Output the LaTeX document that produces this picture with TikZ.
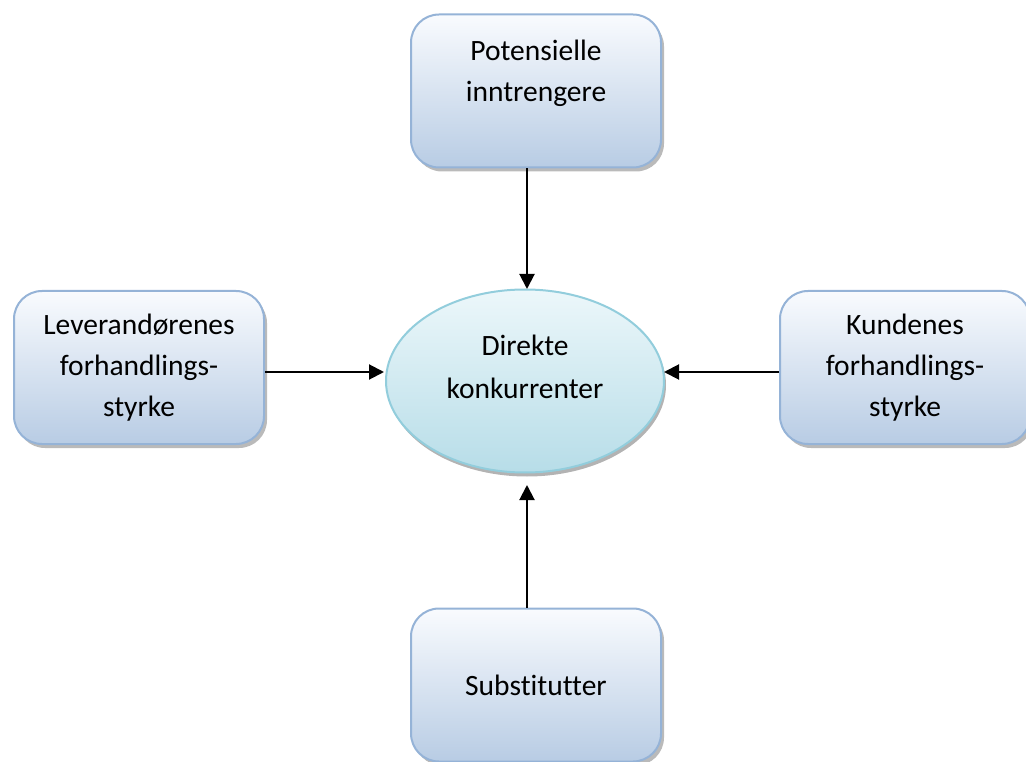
\documentclass[tikz,border=0pt]{standalone}
\usepackage{fontspec}
\setmainfont{Carlito}[Ligatures=CommonOff]
\usetikzlibrary{arrows.meta,shapes.geometric,shadows,calc}
\definecolor{boxtop}{RGB}{249,251,254}
\definecolor{boxbot}{RGB}{184,204,228}
\definecolor{boxline}{RGB}{149,179,215}
\definecolor{elltop}{RGB}{236,247,250}
\definecolor{ellbot}{RGB}{183,221,232}
\definecolor{ellline}{RGB}{146,205,220}
\tikzset{
  forcebox/.style={draw=boxline, line width=2pt, rounded corners=28pt,
    top color=boxtop, bottom color=boxbot,
    minimum width=250pt, minimum height=153pt, align=center,
    font=\fontsize{29.5}{41}\selectfont,
    drop shadow={shadow xshift=3pt, shadow yshift=-4pt, fill=black!45, opacity=0.6}},
  centerell/.style={ellipse, draw=ellline, line width=2pt,
    top color=elltop, bottom color=ellbot,
    minimum width=278pt, minimum height=183pt, inner sep=0pt, align=center,
    font=\fontsize{29.5}{43}\selectfont,
    drop shadow={shadow xshift=2pt, shadow yshift=-4pt, fill=black!50, opacity=0.6}},
  conn/.style={line width=2pt, -{Triangle[length=15pt,width=15pt]}}
}
\begin{document}
\begin{tikzpicture}[x=1pt,y=-1pt]
\useasboundingbox (0,0) rectangle (1026,762);
\node[forcebox] (top) at (536,91) {Potensielle\\inntrengere\\\mbox{}};
\node[forcebox] (left) at (139,367.5) {Leverandørenes\\forhandlings-\\styrke};
\node[forcebox] (right) at (905,367.5) {Kundenes\\forhandlings-\\styrke};
\node[forcebox] (bot) at (536,685) {Substitutter};
\node[centerell] (ell) at (525,381) {Direkte\\konkurrenter\\[-14pt]\mbox{}};
\coordinate (ytop) at (527,289);
\coordinate (ybot) at (527,485);
\draw[conn] (top.south -| ytop) -- (ytop);
\draw[conn] (bot.north -| ybot) -- (ybot);
\draw[conn] (left.east |- 0,372) -- (384,372);
\draw[conn] (right.west |- 0,372) -- (664,372);
\end{tikzpicture}
\end{document}
